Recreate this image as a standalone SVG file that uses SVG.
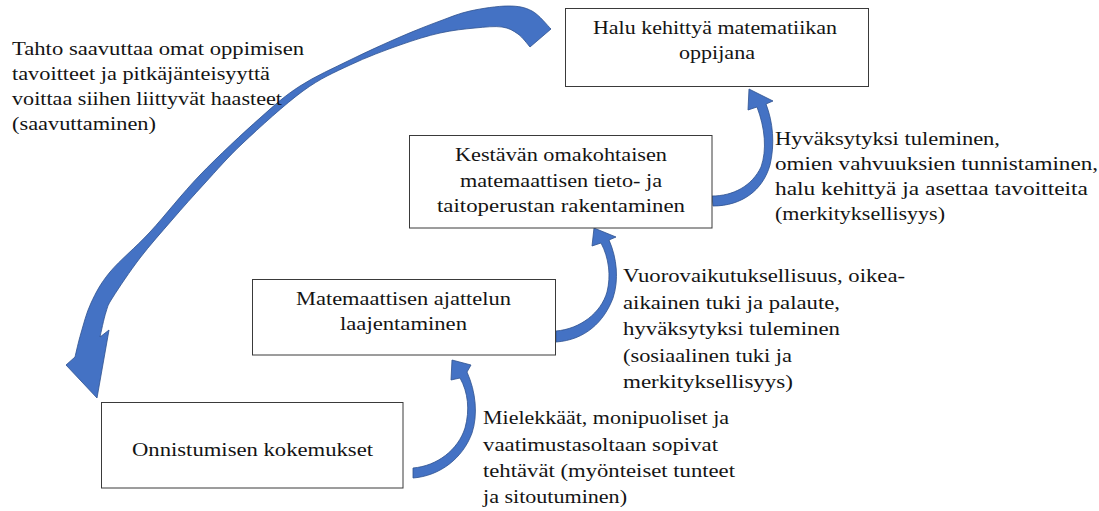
<svg xmlns="http://www.w3.org/2000/svg" width="1099" height="511" viewBox="0 0 1099 511">
<style>
.box{fill:#fff;stroke:#3a3a3a;stroke-width:1}
.t{font-family:"Liberation Serif","Times New Roman",serif;font-size:19.5px;fill:#141414}
.arr{fill:#4472C4;stroke:#2F528F;stroke-width:0.8;stroke-linejoin:round}
</style>
<rect width="1099" height="511" fill="#fff"/>
<g id="connectors">
<path class="arr" d="M551,29 C547.8,26 539.2,14.8 532,11 C524.8,7.2 518.3,6 508,6 C497.7,6 481.3,8.5 470,11 C458.7,13.5 451.7,16.7 440,21 C428.3,25.3 415,30.5 400,37 C385,43.5 366.7,51.8 350,60 C333.3,68.2 315,76.3 300,86 C285,95.7 276.7,103.2 260,118 C243.3,132.8 218.3,156 200,175 C181.7,194 165,215.8 150,232 C135,248.2 119.8,260.2 110,272 C100.2,283.8 95.8,292.8 91,303 C86.2,313.2 83.7,324 81,333 C78.3,342 76,353 75,357 L66,365 L97,398 L109,330 L100,337 C101,332.8 103.8,318.7 106,312 C108.2,305.3 107.3,306 113,297 C118.7,288 130.2,270.8 140,258 C149.8,245.2 161.2,232.5 172,220 C182.8,207.5 193.2,195.8 205,183 C216.8,170.2 226.7,158.3 243,143 C259.3,127.7 285.2,104 303,91 C320.8,78 333.8,72.7 350,65 C366.2,57.3 385,50.3 400,45 C415,39.7 427.5,35.8 440,33 C452.5,30.2 464.7,29 475,28 C485.3,27 494.8,26 502,27 C509.2,28 513.3,30.7 518,34 C522.7,37.3 528,44.8 530,47 Z"/>
<path class="arr" d="M712,196 C733,196 752,186 761,167 C767,150 765,128 757,107 L748,110 L749,89 L773,101 L766,104 C773,122 775,144 770,165 C763,190 742,206 713,206 Z"/>
<path class="arr" d="M556,331 C580,329 601,313 607,292 C611,276 609,258 601,243 L592,246 L594,228 L616,237 L609,240 C617,258 619,280 613,298 C604,322 585,340 556,342 Z"/>
<path class="arr" d="M413,468 C437,466 458,450 465,428 C470,410 468,392 460,378 L451,380 L452,360 L471,365 L467,372 C476,392 478,415 472,433 C463,458 440,476 413,478 Z"/>
</g>
<g id="n1">
<rect class="box" x="565.5" y="8.5" width="303" height="78"/>
<text class="t" x="593" y="34" textLength="244" lengthAdjust="spacingAndGlyphs">Halu kehittyä matematiikan</text>
<text class="t" x="679" y="59" textLength="76" lengthAdjust="spacingAndGlyphs">oppijana</text>
</g>
<g id="n2">
<rect class="box" x="409.5" y="135.5" width="302.5" height="92.5"/>
<text class="t" x="455" y="161" textLength="212" lengthAdjust="spacingAndGlyphs">Kestävän omakohtaisen</text>
<text class="t" x="460" y="186.5" textLength="202" lengthAdjust="spacingAndGlyphs">matemaattisen tieto- ja</text>
<text class="t" x="437" y="212" textLength="248" lengthAdjust="spacingAndGlyphs">taitoperustan rakentaminen</text>
</g>
<g id="n3">
<rect class="box" x="252.5" y="279.5" width="303" height="75.5"/>
<text class="t" x="296" y="305" textLength="215" lengthAdjust="spacingAndGlyphs">Matemaattisen ajattelun</text>
<text class="t" x="340" y="330" textLength="127" lengthAdjust="spacingAndGlyphs">laajentaminen</text>
</g>
<g id="n4">
<rect class="box" x="101.5" y="402.5" width="301.5" height="85.5"/>
<text class="t" x="132" y="456" textLength="241" lengthAdjust="spacingAndGlyphs">Onnistumisen kokemukset</text>
</g>
<g id="label-left">
<text class="t" x="12" y="55" textLength="292" lengthAdjust="spacingAndGlyphs">Tahto saavuttaa omat oppimisen</text>
<text class="t" x="12" y="80" textLength="258" lengthAdjust="spacingAndGlyphs">tavoitteet ja pitkäjänteisyyttä</text>
<text class="t" x="12" y="105" textLength="270" lengthAdjust="spacingAndGlyphs">voittaa siihen liittyvät haasteet</text>
<text class="t" x="12" y="130" textLength="144" lengthAdjust="spacingAndGlyphs">(saavuttaminen)</text>
</g>
<g id="label-1">
<text class="t" x="775" y="145" textLength="225" lengthAdjust="spacingAndGlyphs">Hyväksytyksi tuleminen,</text>
<text class="t" x="775" y="170" textLength="323" lengthAdjust="spacingAndGlyphs">omien vahvuuksien tunnistaminen,</text>
<text class="t" x="775" y="195" textLength="313" lengthAdjust="spacingAndGlyphs">halu kehittyä ja asettaa tavoitteita</text>
<text class="t" x="775" y="220" textLength="170" lengthAdjust="spacingAndGlyphs">(merkityksellisyys)</text>
</g>
<g id="label-2">
<text class="t" x="623" y="282" textLength="282" lengthAdjust="spacingAndGlyphs">Vuorovaikutuksellisuus, oikea-</text>
<text class="t" x="623" y="308.5" textLength="217" lengthAdjust="spacingAndGlyphs">aikainen tuki ja palaute,</text>
<text class="t" x="623" y="335" textLength="217" lengthAdjust="spacingAndGlyphs">hyväksytyksi tuleminen</text>
<text class="t" x="623" y="361.5" textLength="169" lengthAdjust="spacingAndGlyphs">(sosiaalinen tuki ja</text>
<text class="t" x="623" y="388" textLength="170" lengthAdjust="spacingAndGlyphs">merkityksellisyys)</text>
</g>
<g id="label-3">
<text class="t" x="483" y="424" textLength="246" lengthAdjust="spacingAndGlyphs">Mielekkäät, monipuoliset ja</text>
<text class="t" x="483" y="451" textLength="235" lengthAdjust="spacingAndGlyphs">vaatimustasoltaan sopivat</text>
<text class="t" x="483" y="477" textLength="252" lengthAdjust="spacingAndGlyphs">tehtävät (myönteiset tunteet</text>
<text class="t" x="483" y="503" textLength="144" lengthAdjust="spacingAndGlyphs">ja sitoutuminen)</text>
</g>
</svg>
